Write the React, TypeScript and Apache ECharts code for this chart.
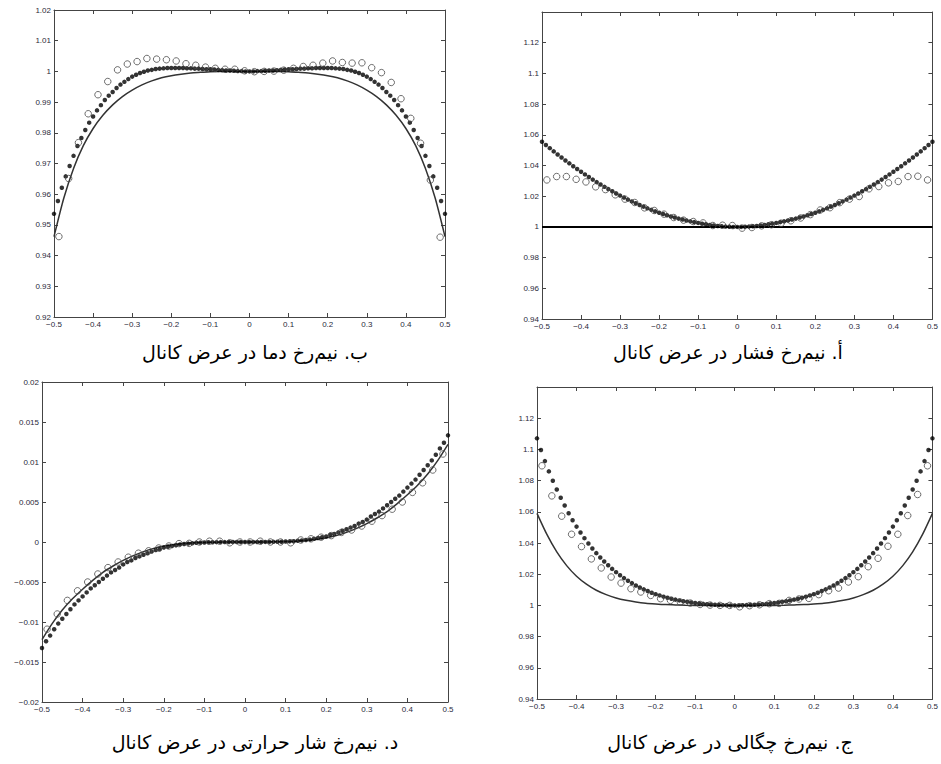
import React, { useEffect, useRef } from "react";
import * as echarts from "echarts";

// x positions
const dotX = [-0.5,-0.49,-0.48,-0.47,-0.46,-0.45,-0.44,-0.43,-0.42,-0.41,-0.4,-0.39,-0.38,-0.37,-0.36,-0.35,-0.34,-0.33,-0.32,-0.31,-0.3,-0.29,-0.28,-0.27,-0.26,-0.25,-0.24,-0.23,-0.22,-0.21,-0.2,-0.19,-0.18,-0.17,-0.16,-0.15,-0.14,-0.13,-0.12,-0.11,-0.1,-0.09,-0.08,-0.07,-0.06,-0.05,-0.04,-0.03,-0.02,-0.01,0,0.01,0.02,0.03,0.04,0.05,0.06,0.07,0.08,0.09,0.1,0.11,0.12,0.13,0.14,0.15,0.16,0.17,0.18,0.19,0.2,0.21,0.22,0.23,0.24,0.25,0.26,0.27,0.28,0.29,0.3,0.31,0.32,0.33,0.34,0.35,0.36,0.37,0.38,0.39,0.4,0.41,0.42,0.43,0.44,0.45,0.46,0.47,0.48,0.49,0.5];
const circleX = [-0.4875,-0.4625,-0.4375,-0.4125,-0.3875,-0.3625,-0.3375,-0.3125,-0.2875,-0.2625,-0.2375,-0.2125,-0.1875,-0.1625,-0.1375,-0.1125,-0.0875,-0.0625,-0.0375,-0.0125,0.0125,0.0375,0.0625,0.0875,0.1125,0.1375,0.1625,0.1875,0.2125,0.2375,0.2625,0.2875,0.3125,0.3375,0.3625,0.3875,0.4125,0.4375,0.4625,0.4875];
const lineX = [-0.5,-0.475,-0.45,-0.425,-0.4,-0.375,-0.35,-0.325,-0.3,-0.275,-0.25,-0.225,-0.2,-0.175,-0.15,-0.125,-0.1,-0.075,-0.05,-0.025,0,0.025,0.05,0.075,0.1,0.125,0.15,0.175,0.2,0.225,0.25,0.275,0.3,0.325,0.35,0.375,0.4,0.425,0.45,0.475,0.5];
const xTicksMin = -0.5;
const xTicksMax = 0.5;

// Temperature (ب)
const tempDots = [0.9536,0.9578,0.9621,0.9658,0.9692,0.9725,0.9757,0.9783,0.9809,0.9833,0.9853,0.9873,0.9890,0.9907,0.9921,0.9933,0.9946,0.9957,0.9966,0.9975,0.9983,0.9989,0.9995,0.9999,1.0003,1.0005,1.0008,1.0009,1.0010,1.0011,1.0011,1.0011,1.0011,1.0011,1.0010,1.0010,1.0009,1.0009,1.0008,1.0007,1.0007,1.0006,1.0005,1.0004,1.0003,1.0003,1.0002,1.0001,1.0001,1.0000,1.0000,1.0000,1.0001,1.0001,1.0002,1.0003,1.0003,1.0004,1.0005,1.0006,1.0007,1.0007,1.0008,1.0009,1.0009,1.0010,1.0010,1.0011,1.0011,1.0011,1.0011,1.0011,1.0010,1.0009,1.0008,1.0005,1.0003,0.9999,0.9995,0.9989,0.9983,0.9975,0.9966,0.9957,0.9946,0.9933,0.9921,0.9907,0.9890,0.9873,0.9853,0.9833,0.9809,0.9783,0.9757,0.9725,0.9692,0.9658,0.9621,0.9578,0.9536];
const tempCircles = [0.9462,0.9651,0.9768,0.9862,0.9924,0.9967,1.0005,1.0024,1.0032,1.0042,1.0040,1.0038,1.0034,1.0025,1.0020,1.0014,1.0010,1.0007,1.0007,1.0002,0.9999,1.0000,1.0001,1.0004,1.0010,1.0016,1.0020,1.0027,1.0034,1.0029,1.0027,1.0028,1.0012,0.9996,0.9964,0.9911,0.9847,0.9766,0.9646,0.9460];
const tempLine = [0.9462,0.9587,0.9684,0.9758,0.9814,0.9857,0.9891,0.9918,0.9939,0.9956,0.9969,0.9979,0.9986,0.9991,0.9995,0.9997,0.9999,1.0000,1.0000,1.0000,1.0000,1.0000,1.0000,1.0000,0.9999,0.9997,0.9995,0.9991,0.9986,0.9979,0.9969,0.9956,0.9939,0.9918,0.9891,0.9857,0.9814,0.9758,0.9684,0.9587,0.9462];

// Pressure (أ)
const pressDots = [1.0555,1.0534,1.0513,1.0492,1.0472,1.0452,1.0433,1.0414,1.0395,1.0377,1.0359,1.0342,1.0325,1.0308,1.0292,1.0276,1.0261,1.0246,1.0232,1.0218,1.0204,1.0191,1.0178,1.0166,1.0154,1.0143,1.0132,1.0121,1.0111,1.0101,1.0092,1.0084,1.0076,1.0068,1.0061,1.0054,1.0048,1.0042,1.0036,1.0031,1.0026,1.0021,1.0017,1.0013,1.0009,1.0006,1.0004,1.0002,1.0001,1.0000,1.0000,1.0000,1.0001,1.0002,1.0004,1.0006,1.0009,1.0013,1.0017,1.0021,1.0026,1.0031,1.0036,1.0042,1.0048,1.0054,1.0061,1.0068,1.0076,1.0084,1.0092,1.0101,1.0111,1.0121,1.0132,1.0143,1.0154,1.0166,1.0178,1.0191,1.0204,1.0218,1.0232,1.0246,1.0261,1.0276,1.0292,1.0308,1.0325,1.0342,1.0359,1.0377,1.0395,1.0414,1.0433,1.0452,1.0472,1.0492,1.0513,1.0534,1.0555];
const pressCircles = [1.0306,1.0328,1.0328,1.0310,1.0293,1.0261,1.0243,1.0209,1.0181,1.0159,1.0124,1.0107,1.0083,1.0061,1.0044,1.0035,1.0026,1.0009,1.0011,1.0009,0.9992,0.9996,1.0007,1.0014,1.0024,1.0040,1.0058,1.0080,1.0110,1.0125,1.0158,1.0181,1.0198,1.0248,1.0263,1.0287,1.0296,1.0328,1.0330,1.0306];
const pressLineX = [-0.5, 0.5];
const pressLine = [1, 1];

// Heat flux (د)
const heatDots = [-0.01325,-0.0124,-0.0117,-0.0109,-0.0102,-0.0096,-0.0090,-0.0084,-0.0078,-0.0073,-0.0068,-0.0063,-0.0058,-0.0054,-0.0050,-0.0046,-0.0042,-0.0038,-0.0035,-0.0032,-0.0028,-0.0025,-0.0023,-0.0020,-0.0018,-0.0016,-0.0014,-0.0012,-0.0010,-0.0009,-0.0007,-0.0006,-0.0005,-0.0004,-0.0003,-0.00025,-0.0002,-0.00015,-0.0001,-0.00008,-0.00006,-0.00004,-0.00003,-0.00002,-0.00001,-0.00001,0,0,0,0,0,0,0,0,0,0.00001,0.00001,0.00002,0.00003,0.00004,0.00006,0.00008,0.0001,0.00015,0.0002,0.00025,0.0003,0.0004,0.0005,0.0006,0.0007,0.0009,0.0010,0.0012,0.0014,0.0016,0.0018,0.0020,0.0023,0.0025,0.0028,0.0032,0.0035,0.0038,0.0042,0.0046,0.0050,0.0054,0.0058,0.0063,0.0068,0.0073,0.0078,0.0084,0.0090,0.0096,0.0102,0.0109,0.0117,0.0124,0.01333];
const heatCircles = [-0.0109,-0.0090,-0.0073,-0.0061,-0.0050,-0.0040,-0.0032,-0.0025,-0.0019,-0.0014,-0.0011,-0.00075,-0.0005,-0.0002,-0.00017,0,0.0001,0.0001,-0.0001,0,0,0.0001,0,0,-0.0001,0.00025,0.0004,0.0006,0.0008,0.0012,0.0015,0.0020,0.0026,0.0033,0.0041,0.0050,0.0062,0.0074,0.0090,0.0110];
const heatLine = [-0.0122,-0.0102,-0.0085,-0.0071,-0.0059,-0.0048,-0.0038,-0.0030,-0.0023,-0.0017,-0.0012,-0.0008,-0.0005,-0.0003,-0.00018,-0.0001,-0.00005,-0.00002,0,0,0,0,0,0.00002,0.00005,0.0001,0.00018,0.0003,0.0005,0.0008,0.0012,0.0017,0.0023,0.0030,0.0038,0.0048,0.0059,0.0071,0.0085,0.0102,0.0122];

// Density (ج)
const densDots = [1.1071,1.0996,1.0925,1.0859,1.0799,1.0743,1.0690,1.0640,1.0591,1.0546,1.0505,1.0467,1.0431,1.0397,1.0365,1.0335,1.0307,1.0281,1.0257,1.0234,1.0213,1.0193,1.0175,1.0158,1.0143,1.0128,1.0115,1.0103,1.0092,1.0081,1.0072,1.0064,1.0056,1.0049,1.0043,1.0037,1.0032,1.0027,1.0023,1.0019,1.0016,1.0013,1.0010,1.0008,1.0006,1.0004,1.0003,1.0002,1.0001,1.0000,1.0000,1.0000,1.0001,1.0002,1.0003,1.0004,1.0006,1.0008,1.0010,1.0013,1.0016,1.0019,1.0023,1.0027,1.0032,1.0037,1.0043,1.0049,1.0056,1.0064,1.0072,1.0081,1.0092,1.0103,1.0115,1.0128,1.0143,1.0158,1.0175,1.0193,1.0213,1.0234,1.0257,1.0281,1.0307,1.0335,1.0365,1.0397,1.0431,1.0467,1.0505,1.0546,1.0591,1.0640,1.0690,1.0743,1.0799,1.0859,1.0925,1.0996,1.1071];
const densCircles = [1.0895,1.0702,1.0572,1.0456,1.0377,1.0298,1.0240,1.0182,1.0143,1.0107,1.0086,1.0064,1.0043,1.0032,1.0021,1.0015,1.0006,1.0002,1.0000,1.0000,0.9991,0.9998,1.0004,1.0011,1.0013,1.0032,1.0041,1.0045,1.0069,1.0094,1.0111,1.0150,1.0184,1.0248,1.0302,1.0379,1.0456,1.0576,1.0711,1.0895];
const densLine = [1.0590,1.0455,1.0343,1.0255,1.0187,1.0136,1.0097,1.0069,1.0048,1.0033,1.0022,1.0014,1.0009,1.0005,1.0003,1.0001,1.0000,1.0000,1.0000,1.0000,1.0000,1.0000,1.0000,1.0000,1.0000,1.0001,1.0003,1.0005,1.0009,1.0014,1.0022,1.0033,1.0048,1.0069,1.0097,1.0136,1.0187,1.0255,1.0343,1.0455,1.0590];

const captions = [
  "ب. نیم\u200cرخ دما در عرض کانال",
  "أ. نیم\u200cرخ فشار در عرض کانال",
  "د. نیم\u200cرخ شار حرارتی در عرض کانال",
  "ج. نیم\u200cرخ چگالی در عرض کانال",
];

const zip = (xs: number[], ys: number[]) => xs.map((x, i) => [x, ys[i]]);

const fmt = (v: number) => String(+v.toFixed(5)).replace("-", "\u2212");

const AXIS_COLOR = "#444";
const LABEL_COLOR = "#2a2a3a";

export default function App() {
  const ref = useRef<HTMLDivElement>(null);
  useEffect(() => {
    if (!ref.current) return;
    const chart = echarts.init(ref.current, undefined, { renderer: "svg" });

    const panels = [
      { grid: { left: 54, top: 10, width: 391, height: 307 }, yMin: 0.92, yMax: 1.02, yInt: 0.01, showMax: true,
        lx: lineX, ly: tempLine, lw: 1.5, lc: "#333", dots: tempDots, circles: tempCircles },
      { grid: { left: 542, top: 12, width: 392, height: 307 }, yMin: 0.94, yMax: 1.14, yInt: 0.02, showMax: false,
        lx: pressLineX, ly: pressLine, lw: 2, lc: "#000", dots: pressDots, circles: pressCircles },
      { grid: { left: 42, top: 382, width: 406, height: 320 }, yMin: -0.02, yMax: 0.02, yInt: 0.005, showMax: true,
        lx: lineX, ly: heatLine, lw: 1.5, lc: "#333", dots: heatDots, circles: heatCircles },
      { grid: { left: 537, top: 387, width: 396, height: 312 }, yMin: 0.94, yMax: 1.14, yInt: 0.02, showMax: false,
        lx: lineX, ly: densLine, lw: 1.5, lc: "#333", dots: densDots, circles: densCircles },
    ];

    const grids: any[] = [];
    const xAxes: any[] = [];
    const yAxes: any[] = [];
    const series: any[] = [];
    const axisLine = { show: true, onZero: false, lineStyle: { color: AXIS_COLOR, width: 1 } };
    const axisTick = { show: true, inside: true, length: 4, lineStyle: { color: AXIS_COLOR, width: 1 } };

    panels.forEach((p, i) => {
      grids.push({ ...p.grid, containLabel: false });
      const xBase = { type: "value", gridIndex: i, min: xTicksMin, max: xTicksMax, interval: 0.1,
        axisLine, axisTick, splitLine: { show: false } };
      xAxes.push({ ...xBase, position: "bottom",
        axisLabel: { show: true, fontSize: 8, fontFamily: "Liberation Sans", color: LABEL_COLOR, margin: 3, formatter: fmt } });
      xAxes.push({ ...xBase, position: "top", axisLabel: { show: false } });
      const yBase = { type: "value", gridIndex: i, min: p.yMin, max: p.yMax, interval: p.yInt,
        axisLine, axisTick, splitLine: { show: false } };
      yAxes.push({ ...yBase, position: "left",
        axisLabel: { show: true, fontSize: 8, fontFamily: "Liberation Sans", color: LABEL_COLOR, margin: 3,
          formatter: fmt, showMaxLabel: p.showMax } });
      yAxes.push({ ...yBase, position: "right", axisLabel: { show: false } });

      series.push({ type: "line", xAxisIndex: 2 * i, yAxisIndex: 2 * i, data: zip(p.lx, p.ly),
        showSymbol: false, smooth: p.lx.length > 2 ? 0.25 : false,
        lineStyle: { color: p.lc, width: p.lw }, z: 2 });
      series.push({ type: "scatter", xAxisIndex: 2 * i, yAxisIndex: 2 * i, data: zip(dotX, p.dots),
        symbol: "circle", symbolSize: 4.5, itemStyle: { color: "#000" }, z: 3 });
      series.push({ type: "scatter", xAxisIndex: 2 * i, yAxisIndex: 2 * i, data: zip(circleX, p.circles),
        symbol: "circle", symbolSize: 6.5,
        itemStyle: { color: "rgba(255,255,255,0)", borderColor: "#4a4a4a", borderWidth: 1 }, z: 4 });
    });

    const capPos = [
      [255, 352],
      [728, 352],
      [255, 742],
      [730, 742],
    ];
    const graphic = captions.map((t, i) => ({
      type: "text",
      x: capPos[i][0],
      y: capPos[i][1],
      style: { text: t, font: '19px "DejaVu Sans"', textAlign: "center", textVerticalAlign: "middle", fill: "#000" },
    }));

    chart.setOption({
      animation: false,
      backgroundColor: "#fff",
      grid: grids,
      xAxis: xAxes,
      yAxis: yAxes,
      series,
      graphic,
    });
    return () => chart.dispose();
  }, []);

  return (
    <div
      ref={ref}
      style={{ position: "fixed", left: 0, top: 0, width: 941, height: 764, background: "#fff" }}
    />
  );
}
